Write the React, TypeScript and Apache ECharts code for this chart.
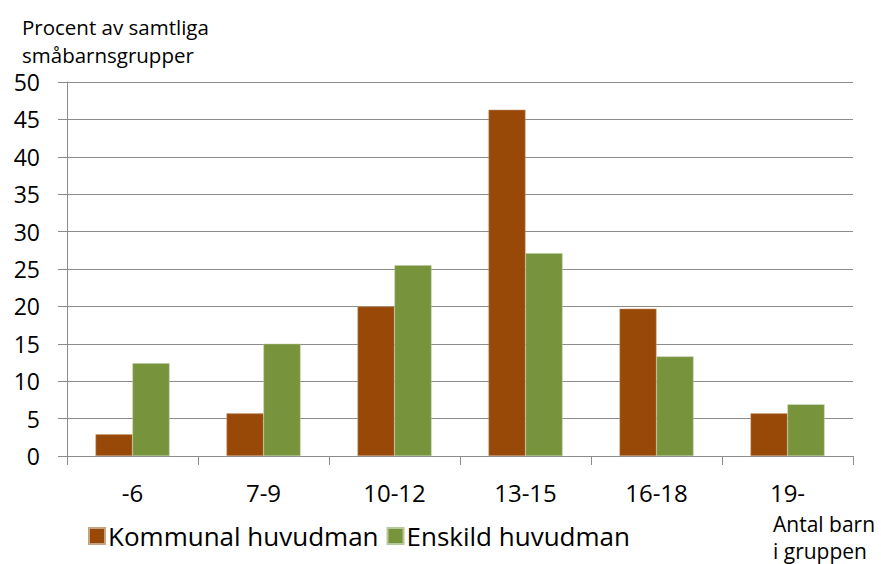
import React, { useEffect, useRef } from "react";
import * as echarts from "echarts";

const categories = ["-6", "7-9", "10-12", "13-15", "16-18", "19-"];
const kommunal = [2.9, 5.7, 20.0, 46.3, 19.7, 5.7];
const enskild = [12.4, 15.0, 25.5, 27.1, 13.3, 6.9];
const seriesNames = ["Kommunal huvudman", "Enskild huvudman"];
const yTitle = "Procent av samtliga\nsmåbarnsgrupper";
const xTitleLines = ["Antal barn", "i gruppen"];

const FONT = "'Open Sans', Lato, sans-serif";

export default function App() {
  const ref = useRef<HTMLDivElement>(null);
  useEffect(() => {
    if (!ref.current) return;
    const chart = echarts.init(ref.current, null, { renderer: "svg" });
    chart.setOption({
      animation: false,
      textStyle: { fontFamily: FONT },
      grid: { left: 67, right: 28, top: 82, bottom: 108, containLabel: false },
      legend: {
        left: 83,
        top: 518,
        itemWidth: 16,
        itemHeight: 16,
        itemGap: 8,
        icon: "rect",
        textStyle: { fontSize: 26, color: "#000", fontFamily: FONT, padding: [0, 0, 0, -2] },
        data: seriesNames,
      },
      graphic: [
        {
          type: "text",
          left: 22,
          top: 13,
          style: { text: yTitle, fontSize: 20.5, lineHeight: 28, fill: "#000", fontFamily: FONT },
        },
        {
          type: "text",
          left: 773,
          top: 512,
          style: { text: xTitleLines[0], fontSize: 21, lineHeight: 24, fill: "#000", fontFamily: FONT },
        },
        {
          type: "text",
          left: 773,
          top: 539,
          style: { text: xTitleLines[1], fontSize: 21, lineHeight: 24, fill: "#000", fontFamily: FONT },
        },
      ],
      xAxis: {
        type: "category",
        data: categories,
        axisLine: { lineStyle: { color: "#8c8c8c", width: 1 } },
        axisTick: { show: true, length: 9, lineStyle: { color: "#8c8c8c" } },
        axisLabel: { color: "#000", fontSize: 24, margin: 24, fontFamily: FONT },
      },
      yAxis: {
        type: "value",
        min: 0,
        max: 50,
        interval: 5,
        axisLine: { show: true, lineStyle: { color: "#8c8c8c", width: 1 } },
        axisTick: { show: true, length: 9, lineStyle: { color: "#8c8c8c" } },
        axisLabel: { color: "#000", fontSize: 23, margin: 27, fontFamily: FONT },
        splitLine: { lineStyle: { color: "#8c8c8c", width: 1 } },
      },
      series: [
        {
          name: seriesNames[0],
          type: "bar",
          data: kommunal,
          barWidth: 37,
          barGap: "0%",
          itemStyle: { color: "#984807", borderColor: "#c9a27f", borderWidth: 0.5 },
        },
        {
          name: seriesNames[1],
          type: "bar",
          data: enskild,
          barWidth: 37,
          barGap: "0%",
          itemStyle: { color: "#77933C", borderColor: "#b5c99a", borderWidth: 0.5 },
        },
      ],
    });
    return () => chart.dispose();
  }, []);
  return (
    <div
      ref={ref}
      style={{ position: "fixed", left: 0, top: 0, width: 881, height: 564, background: "#fff" }}
    />
  );
}
